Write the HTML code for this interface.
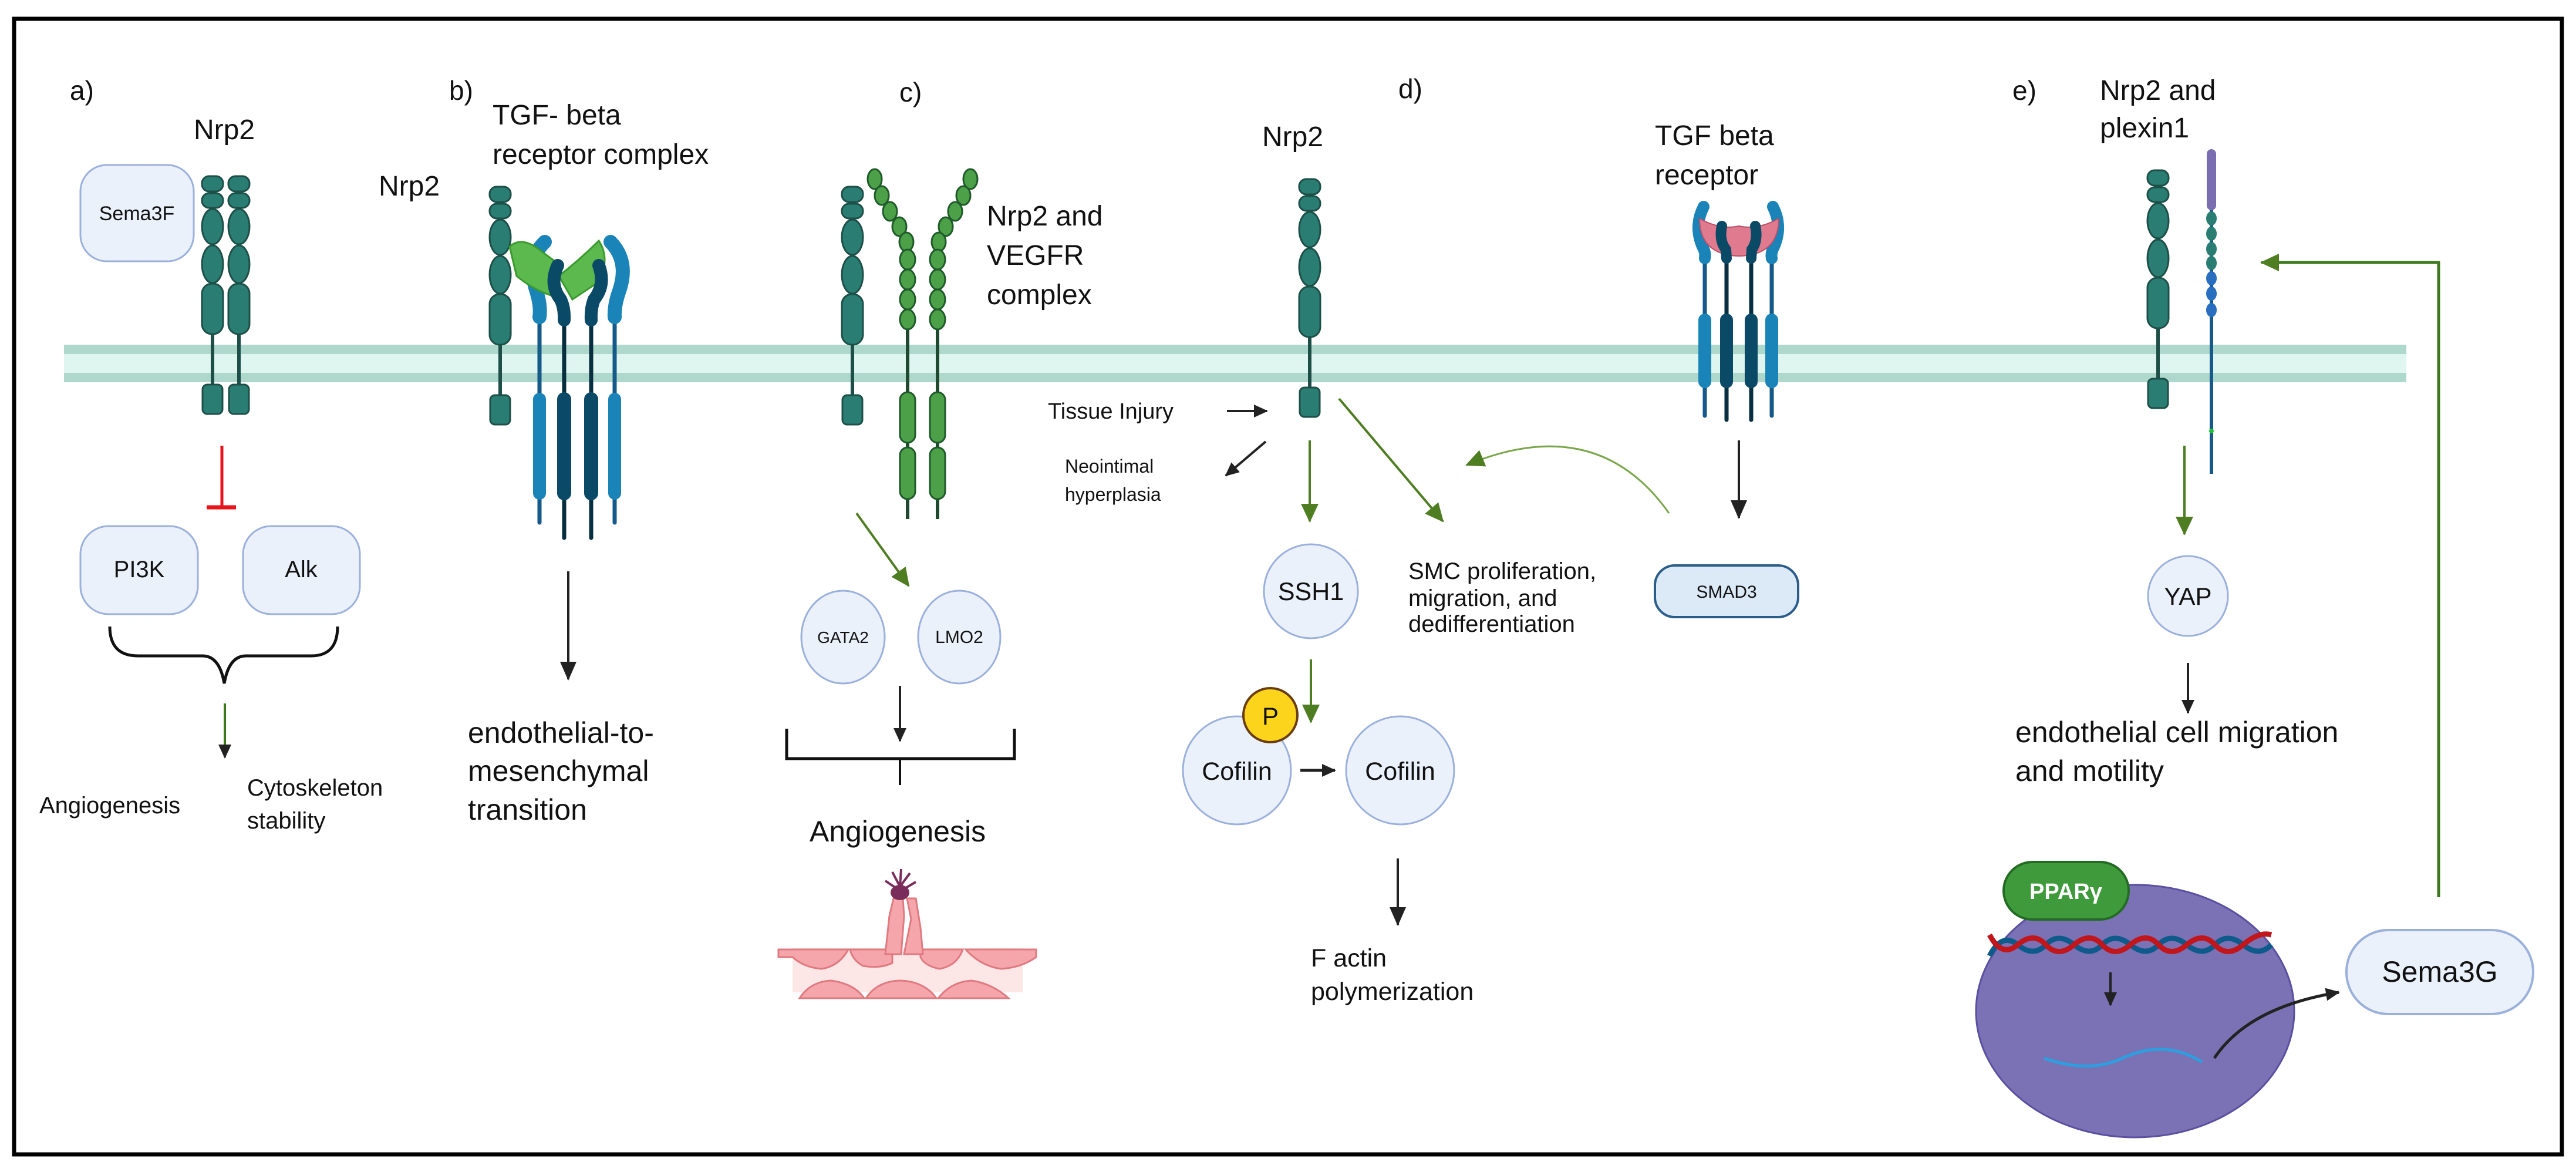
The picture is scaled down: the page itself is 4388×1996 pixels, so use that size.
<!DOCTYPE html>
<html><head><meta charset="utf-8"><style>
html,body{margin:0;padding:0;background:#fff;}
svg{display:block;}
text{font-family:"Liberation Sans",Arial,sans-serif;fill:#111;}
</style></head><body>
<svg width="4388" height="1996" viewBox="0 0 4388 1996" xmlns="http://www.w3.org/2000/svg">
<defs>
<marker id="ag" markerUnits="userSpaceOnUse" markerWidth="40" markerHeight="40" refX="30" refY="15" orient="auto"><path d="M0,0 L32,15 L0,30 Z" fill="#4e7d22"/></marker>
<marker id="ab" markerUnits="userSpaceOnUse" markerWidth="40" markerHeight="40" refX="30" refY="14" orient="auto"><path d="M0,0 L32,14 L0,28 Z" fill="#222"/></marker>
<marker id="abs" markerUnits="userSpaceOnUse" markerWidth="30" markerHeight="30" refX="22" refY="11" orient="auto"><path d="M0,0 L24,11 L0,22 Z" fill="#222"/></marker>
<g id="nrp">
<line x1="0" y1="260" x2="0" y2="370" stroke="#1d4f48" stroke-width="6"/>
<rect x="-18" y="0" width="36" height="26" rx="12" fill="#2a7d72" stroke="#1d4f48" stroke-width="3"/>
<rect x="-18" y="29" width="36" height="25" rx="12" fill="#2a7d72" stroke="#1d4f48" stroke-width="3"/>
<ellipse cx="0" cy="86" rx="18" ry="30" fill="#2a7d72" stroke="#1d4f48" stroke-width="3"/>
<ellipse cx="0" cy="150" rx="18" ry="32" fill="#2a7d72" stroke="#1d4f48" stroke-width="3"/>
<rect x="-18" y="183" width="36" height="86" rx="17" fill="#2a7d72" stroke="#1d4f48" stroke-width="3"/>
<rect x="-17" y="355" width="34" height="50" rx="8" fill="#2a7d72" stroke="#1d4f48" stroke-width="3"/>
</g>
</defs>

<!-- frame -->
<rect x="24" y="32" width="4340" height="1934" fill="none" stroke="#000" stroke-width="7"/>

<!-- membrane -->
<rect x="109" y="587" width="3990" height="64" fill="#aed8cc"/>
<rect x="109" y="603" width="3990" height="32" fill="#dff5f0"/>

<!-- Panel a -->
<text x="119" y="170" font-size="46">a)</text>
<text x="330" y="237" font-size="48">Nrp2</text>
<rect x="137" y="281" width="193" height="164" rx="45" fill="#eaf1fb" stroke="#9bb0dc" stroke-width="3"/>
<text x="233" y="375" font-size="34" text-anchor="middle">Sema3F</text>
<use href="#nrp" x="362" y="300"/>
<use href="#nrp" x="407" y="300"/>
<line x1="378" y1="759" x2="378" y2="864" stroke="#e8141b" stroke-width="5"/>
<line x1="352" y1="864" x2="402" y2="864" stroke="#e8141b" stroke-width="7"/>
<rect x="137" y="896" width="200" height="150" rx="48" fill="#eaf1fb" stroke="#9bb0dc" stroke-width="3"/>
<text x="237" y="983" font-size="40" text-anchor="middle">PI3K</text>
<rect x="414" y="896" width="199" height="150" rx="48" fill="#eaf1fb" stroke="#9bb0dc" stroke-width="3"/>
<text x="513" y="983" font-size="40" text-anchor="middle">Alk</text>
<path d="M187 1067 Q187 1117 235 1117 L345 1117 Q374 1117 382 1164 Q390 1117 419 1117 L530 1117 Q575 1117 575 1067" fill="none" stroke="#111" stroke-width="5"/>
<line x1="383" y1="1198" x2="383" y2="1290" stroke="#3d7a1f" stroke-width="4" marker-end="url(#abs)"/>
<text x="67" y="1385" font-size="40">Angiogenesis</text>
<text x="421" y="1355" font-size="40">Cytoskeleton</text>
<text x="421" y="1411" font-size="40">stability</text>

<!-- Panel b -->
<text x="765" y="170" font-size="46">b)</text>
<text x="839" y="212" font-size="48">TGF- beta</text>
<text x="839" y="279" font-size="48">receptor complex</text>
<text x="645" y="333" font-size="48">Nrp2</text>
<use href="#nrp" x="852" y="318"/>
<!-- receptor chains b -->
<g fill="none" stroke-linecap="round">
<line x1="919" y1="540" x2="919" y2="890" stroke="#155a8a" stroke-width="7"/>
<line x1="1047" y1="540" x2="1047" y2="890" stroke="#155a8a" stroke-width="7"/>
<line x1="961" y1="540" x2="961" y2="916" stroke="#082f40" stroke-width="7"/>
<line x1="1007" y1="540" x2="1007" y2="916" stroke="#082f40" stroke-width="7"/>
<path d="M928 412 Q898 440 912 490 Q922 520 919 540" stroke="#1a84b8" stroke-width="24"/>
<path d="M1040 412 Q1072 445 1055 495 Q1046 520 1047 540" stroke="#1a84b8" stroke-width="24"/>
</g>
<path d="M868 420 Q890 400 925 430 L955 452 L945 505 Q910 495 880 470 Z" fill="#5bb94e" stroke="#3a9a2e" stroke-width="3"/>
<path d="M1020 410 Q1040 440 1020 480 L975 510 L952 470 Q990 440 1020 410 Z" fill="#5bb94e" stroke="#3a9a2e" stroke-width="3"/>
<g fill="none" stroke-linecap="round">
<path d="M950 452 Q935 485 955 510 Q962 525 961 545" stroke="#0b4a66" stroke-width="22"/>
<path d="M1020 452 Q1032 485 1012 510 Q1006 525 1007 545" stroke="#0b4a66" stroke-width="22"/>
<line x1="919" y1="680" x2="919" y2="840" stroke="#1a84b8" stroke-width="22"/>
<line x1="1047" y1="680" x2="1047" y2="840" stroke="#1a84b8" stroke-width="22"/>
<line x1="961" y1="680" x2="961" y2="840" stroke="#0b4a66" stroke-width="24"/>
<line x1="1007" y1="680" x2="1007" y2="840" stroke="#0b4a66" stroke-width="24"/>
</g>
<line x1="968" y1="973" x2="968" y2="1157" stroke="#222" stroke-width="4" marker-end="url(#ab)"/>
<text x="797" y="1265" font-size="50">endothelial-to-</text>
<text x="797" y="1330" font-size="50">mesenchymal</text>
<text x="797" y="1396" font-size="50">transition</text>

<!-- Panel c -->
<text x="1532" y="173" font-size="46">c)</text>
<use href="#nrp" x="1452" y="318"/>
<text x="1681" y="384" font-size="48">Nrp2 and</text>
<text x="1681" y="451" font-size="48">VEGFR</text>
<text x="1681" y="518" font-size="48">complex</text>
<g stroke="#1f5a2a" stroke-width="3" fill="#4ca048">
<line x1="1546" y1="550" x2="1546" y2="884" stroke="#1f4a30" stroke-width="6"/>
<line x1="1597" y1="550" x2="1597" y2="884" stroke="#1f4a30" stroke-width="6"/>
<ellipse cx="1490" cy="305" rx="12" ry="17"/><ellipse cx="1502" cy="333" rx="12" ry="16"/><ellipse cx="1516" cy="360" rx="12" ry="16"/><ellipse cx="1532" cy="386" rx="12" ry="16"/><ellipse cx="1544" cy="412" rx="12" ry="16"/>
<ellipse cx="1546" cy="442" rx="13" ry="17"/><ellipse cx="1546" cy="476" rx="13" ry="17"/><ellipse cx="1546" cy="510" rx="13" ry="17"/><ellipse cx="1546" cy="544" rx="13" ry="17"/>
<ellipse cx="1653" cy="305" rx="12" ry="17"/><ellipse cx="1641" cy="333" rx="12" ry="16"/><ellipse cx="1627" cy="360" rx="12" ry="16"/><ellipse cx="1611" cy="386" rx="12" ry="16"/><ellipse cx="1599" cy="412" rx="12" ry="16"/>
<ellipse cx="1597" cy="442" rx="13" ry="17"/><ellipse cx="1597" cy="476" rx="13" ry="17"/><ellipse cx="1597" cy="510" rx="13" ry="17"/><ellipse cx="1597" cy="544" rx="13" ry="17"/>
<rect x="1533" y="668" width="26" height="86" rx="13"/><rect x="1584" y="668" width="26" height="86" rx="13"/>
<rect x="1533" y="762" width="26" height="88" rx="13"/><rect x="1584" y="762" width="26" height="88" rx="13"/>
</g>
<line x1="1459" y1="874" x2="1548" y2="998" stroke="#4e7d22" stroke-width="4" marker-end="url(#ag)"/>
<ellipse cx="1436" cy="1085" rx="71" ry="79" fill="#eaf1fb" stroke="#9bb0dc" stroke-width="3"/>
<text x="1436" y="1095" font-size="28" text-anchor="middle">GATA2</text>
<ellipse cx="1634" cy="1085" rx="70" ry="79" fill="#eaf1fb" stroke="#9bb0dc" stroke-width="3"/>
<text x="1634" y="1095" font-size="30" text-anchor="middle">LMO2</text>
<line x1="1533" y1="1168" x2="1533" y2="1262" stroke="#222" stroke-width="4" marker-end="url(#abs)"/>
<path d="M1340 1241 L1340 1292 L1728 1292 L1728 1241" fill="none" stroke="#111" stroke-width="5"/>
<line x1="1533" y1="1292" x2="1533" y2="1337" stroke="#111" stroke-width="4"/>
<text x="1529" y="1433" font-size="50" text-anchor="middle">Angiogenesis</text>
<!-- vessel -->
<g stroke="#e07a80" stroke-width="3" fill="#f4a6ab">
<rect x="1350" y="1615" width="392" height="75" fill="#fde6e6" stroke="none"/>
<path d="M1326 1617 L1445 1617 Q1430 1645 1400 1650 Q1370 1648 1350 1630 L1326 1630 Z"/>
<path d="M1448 1617 L1520 1617 L1520 1640 Q1500 1650 1470 1645 Q1452 1635 1448 1617 Z"/>
<path d="M1568 1617 L1640 1617 Q1630 1645 1600 1650 Q1575 1645 1568 1630 Z"/>
<path d="M1645 1617 L1765 1617 L1765 1630 Q1740 1648 1705 1650 Q1670 1645 1645 1617 Z"/>
<path d="M1362 1700 Q1380 1672 1415 1670 Q1455 1675 1472 1700 Z"/>
<path d="M1475 1700 Q1495 1670 1535 1670 Q1575 1672 1595 1700 Z"/>
<path d="M1598 1700 Q1620 1672 1655 1670 Q1690 1675 1718 1700 Z"/>
<path d="M1508 1625 L1515 1560 L1522 1530 L1538 1530 L1540 1560 L1535 1625 Z"/>
<path d="M1540 1625 L1552 1565 L1545 1530 L1560 1530 L1568 1580 L1572 1625 Z"/>
</g>
<ellipse cx="1533" cy="1520" rx="16" ry="13" fill="#7a2d5a"/>
<g stroke="#7a2d5a" stroke-width="4" fill="none">
<path d="M1533 1510 L1520 1485"/><path d="M1533 1510 L1535 1480"/><path d="M1533 1510 L1550 1487"/><path d="M1530 1515 L1508 1500"/><path d="M1538 1515 L1560 1502"/>
</g>

<!-- Tissue injury -->
<text x="1785" y="713" font-size="38">Tissue Injury</text>
<line x1="2090" y1="700" x2="2158" y2="700" stroke="#222" stroke-width="4" marker-end="url(#abs)"/>
<line x1="2156" y1="752" x2="2088" y2="810" stroke="#222" stroke-width="4" marker-end="url(#abs)"/>
<text x="1814" y="805" font-size="32">Neointimal</text>
<text x="1814" y="853" font-size="32">hyperplasia</text>

<!-- Panel d -->
<text x="2382" y="167" font-size="46">d)</text>
<text x="2150" y="249" font-size="48">Nrp2</text>
<use href="#nrp" x="2231" y="305"/>
<line x1="2231" y1="750" x2="2231" y2="888" stroke="#4e7d22" stroke-width="4" marker-end="url(#ag)"/>
<line x1="2281" y1="679" x2="2458" y2="888" stroke="#4e7d22" stroke-width="4" marker-end="url(#ag)"/>
<path d="M2843 874 Q2720 700 2498 792" fill="none" stroke="#7aa64a" stroke-width="3" marker-end="url(#ag)"/>
<text x="2819" y="247" font-size="48">TGF beta</text>
<text x="2819" y="314" font-size="48">receptor</text>
<g fill="none" stroke-linecap="round">
<line x1="2904" y1="430" x2="2904" y2="708" stroke="#155a8a" stroke-width="7"/>
<line x1="3018" y1="430" x2="3018" y2="708" stroke="#155a8a" stroke-width="7"/>
<line x1="2941" y1="430" x2="2941" y2="715" stroke="#082f40" stroke-width="7"/>
<line x1="2983" y1="430" x2="2983" y2="715" stroke="#082f40" stroke-width="7"/>
<path d="M2902 352 Q2885 385 2900 420 Q2906 430 2904 440" stroke="#1a84b8" stroke-width="20"/>
<path d="M3020 352 Q3037 385 3022 420 Q3016 430 3018 440" stroke="#1a84b8" stroke-width="20"/>
</g>
<path d="M2895 372 Q2930 392 2962 385 Q2995 392 3030 372 Q3030 420 2990 432 Q2962 440 2935 432 Q2895 420 2895 372 Z" fill="#e07a8e" stroke="#b85068" stroke-width="2"/>
<g fill="none" stroke-linecap="round">
<path d="M2933 385 Q2928 410 2940 425 L2941 440" stroke="#0b4a66" stroke-width="18"/>
<path d="M2990 385 Q2995 410 2984 425 L2983 440" stroke="#0b4a66" stroke-width="18"/>
<line x1="2904" y1="545" x2="2904" y2="650" stroke="#1a84b8" stroke-width="22"/>
<line x1="3018" y1="545" x2="3018" y2="650" stroke="#1a84b8" stroke-width="22"/>
<line x1="2941" y1="545" x2="2941" y2="650" stroke="#0b4a66" stroke-width="22"/>
<line x1="2983" y1="545" x2="2983" y2="650" stroke="#0b4a66" stroke-width="22"/>
</g>
<line x1="2962" y1="750" x2="2962" y2="882" stroke="#222" stroke-width="4" marker-end="url(#ab)"/>
<rect x="2819" y="963" width="244" height="88" rx="34" fill="#dce9f7" stroke="#2b5d8a" stroke-width="4"/>
<text x="2941" y="1018" font-size="30" text-anchor="middle">SMAD3</text>
<circle cx="2233" cy="1007" r="80" fill="#eaf1fb" stroke="#9bb0dc" stroke-width="3"/>
<text x="2233" y="1022" font-size="43" text-anchor="middle">SSH1</text>
<text x="2399" y="986" font-size="40">SMC proliferation,</text>
<text x="2399" y="1032" font-size="40">migration, and</text>
<text x="2399" y="1076" font-size="40">dedifferentiation</text>
<line x1="2233" y1="1123" x2="2233" y2="1230" stroke="#4e7d22" stroke-width="4" marker-end="url(#ag)"/>
<circle cx="2107" cy="1312" r="92" fill="#eaf1fb" stroke="#9bb0dc" stroke-width="3"/>
<text x="2107" y="1328" font-size="43" text-anchor="middle">Cofilin</text>
<circle cx="2164" cy="1218" r="46" fill="#fcd41c" stroke="#6a3d10" stroke-width="4"/>
<text x="2164" y="1234" font-size="42" text-anchor="middle">P</text>
<line x1="2215" y1="1312" x2="2274" y2="1312" stroke="#222" stroke-width="5" marker-end="url(#abs)"/>
<circle cx="2385" cy="1312" r="92" fill="#eaf1fb" stroke="#9bb0dc" stroke-width="3"/>
<text x="2385" y="1328" font-size="43" text-anchor="middle">Cofilin</text>
<line x1="2381" y1="1462" x2="2381" y2="1575" stroke="#222" stroke-width="4" marker-end="url(#ab)"/>
<text x="2233" y="1646" font-size="43">F actin</text>
<text x="2233" y="1703" font-size="43">polymerization</text>

<!-- Panel e -->
<text x="3428" y="170" font-size="46">e)</text>
<text x="3577" y="170" font-size="48">Nrp2 and</text>
<text x="3577" y="234" font-size="48">plexin1</text>
<use href="#nrp" x="3676" y="290"/>
<line x1="3767" y1="300" x2="3767" y2="807" stroke="#155a8a" stroke-width="6"/>
<rect x="3759" y="254" width="16" height="104" rx="8" fill="#7a6db0"/>
<g fill="#2a7d72"><ellipse cx="3767" cy="372" rx="9" ry="12"/><ellipse cx="3767" cy="398" rx="9" ry="12"/><ellipse cx="3767" cy="424" rx="9" ry="12"/><ellipse cx="3767" cy="448" rx="9" ry="12"/></g>
<g fill="#2a6ec0"><ellipse cx="3767" cy="474" rx="9" ry="12"/><ellipse cx="3767" cy="500" rx="9" ry="12"/><ellipse cx="3767" cy="528" rx="9" ry="12"/></g>
<circle cx="3767" cy="734" r="4" fill="#22c03a"/>
<line x1="3721" y1="759" x2="3721" y2="910" stroke="#4e7d22" stroke-width="4" marker-end="url(#ag)"/>
<polyline points="4154,1528 4154,447 3852,447" fill="none" stroke="#3d7a1f" stroke-width="5" marker-end="url(#ag)"/>
<circle cx="3727" cy="1015" r="68" fill="#eaf1fb" stroke="#9bb0dc" stroke-width="3"/>
<text x="3727" y="1030" font-size="42" text-anchor="middle">YAP</text>
<line x1="3727" y1="1129" x2="3727" y2="1214" stroke="#222" stroke-width="4" marker-end="url(#abs)"/>
<text x="3433" y="1264" font-size="50">endothelial cell migration</text>
<text x="3433" y="1330" font-size="50">and motility</text>
<ellipse cx="3637" cy="1722" rx="271" ry="215" fill="#7b71b5" stroke="#5a4fa0" stroke-width="3"/>
<rect x="3413" y="1468" width="213" height="98" rx="49" fill="#3f9a3c" stroke="#236b23" stroke-width="4"/>
<text x="3519" y="1531" font-size="38" font-weight="bold" text-anchor="middle" style="fill:#fff">PPARγ</text>
<path d="M3389 1628 Q3410 1587 3437 1609 T3485 1609 T3533 1609 T3581 1609 T3629 1609 T3677 1609 T3725 1609 T3773 1609 T3821 1609 T3869 1609" fill="none" stroke="#0e5a8a" stroke-width="9"/>
<path d="M3389 1592 Q3410 1632 3437 1609 T3485 1609 T3533 1609 T3581 1609 T3629 1609 T3677 1609 T3725 1609 T3773 1609 T3821 1609 T3869 1592" fill="none" stroke="#c0161c" stroke-width="9"/>
<line x1="3595" y1="1656" x2="3595" y2="1712" stroke="#222" stroke-width="4" marker-end="url(#abs)"/>
<path d="M3482 1802 Q3560 1830 3620 1800 Q3690 1770 3751 1809" fill="none" stroke="#2aa0e0" stroke-width="5"/>
<path d="M3772 1802 Q3830 1715 3984 1690" fill="none" stroke="#222" stroke-width="5" marker-end="url(#abs)"/>
<rect x="3997" y="1584" width="318" height="143" rx="71" fill="#eaf1fb" stroke="#9bb0dc" stroke-width="4"/>
<text x="4156" y="1672" font-size="50" text-anchor="middle">Sema3G</text>
</svg>
</body></html>
